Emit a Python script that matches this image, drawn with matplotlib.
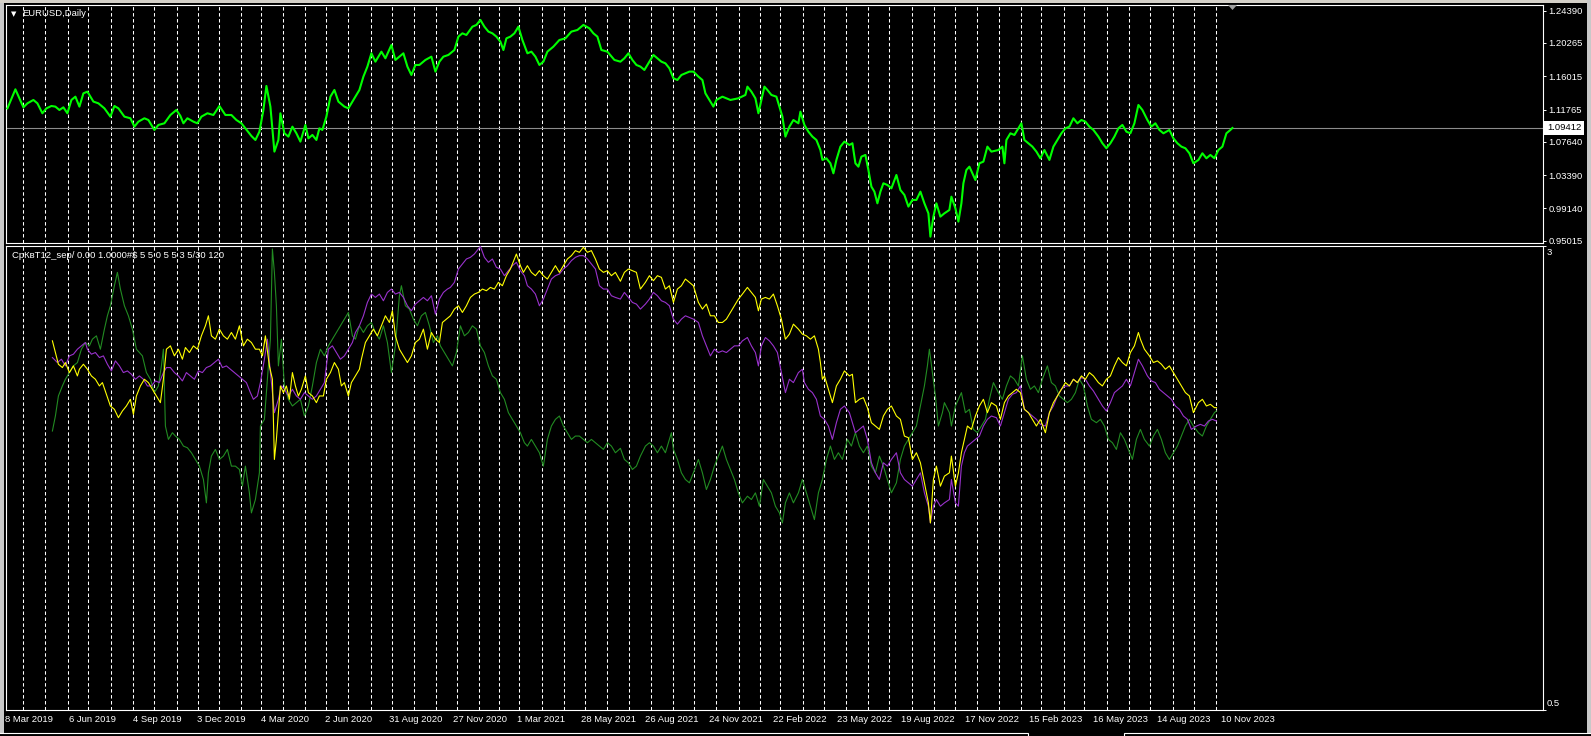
import numpy as np
import pandas as pd
import matplotlib
matplotlib.use('Agg')
import matplotlib.pyplot as plt
from matplotlib.patches import Rectangle, Polygon
from matplotlib.transforms import blended_transform_factory

plt.rcParams['font.family'] = ['Liberation Sans', 'DejaVu Sans']
plt.rcParams['lines.scale_dashes'] = False

# ---- data: (bar index, value), bar 0 = 8 Mar 2019, one pixel per daily bar ----
price_pts = [
    (0, 1.1192), (8, 1.1435), (12, 1.1320), (16, 1.1205), (20, 1.1256), (26, 1.1299), (30, 1.1256),
    (35, 1.1129), (39, 1.1192), (44, 1.1222), (48, 1.1214), (52, 1.1171), (56, 1.1205), (60, 1.1129),
    (64, 1.1299), (68, 1.1341), (72, 1.1214), (76, 1.1384), (80, 1.1405), (86, 1.1278), (91, 1.1256),
    (97, 1.1192), (103, 1.1086), (107, 1.1222), (111, 1.1192), (117, 1.1086), (123, 1.1065), (127, 1.0958),
    (131, 1.1022), (137, 1.1065), (141, 1.1043), (147, 1.0916), (151, 1.0980), (157, 1.1001), (163, 1.1107),
    (169, 1.1171), (173, 1.1095), (176, 1.1001), (180, 1.1065), (186, 1.1022), (190, 1.1001), (194, 1.1086),
    (200, 1.1129), (206, 1.1107), (212, 1.1222), (218, 1.1107), (224, 1.1107), (229, 1.1043), (234, 1.1001),
    (238, 1.0937), (244, 1.0839), (248, 1.0788), (252, 1.0894), (256, 1.1171), (259, 1.1478), (263, 1.1214),
    (267, 1.0639), (271, 1.0788), (273, 1.1129), (277, 1.0873), (281, 1.0831), (285, 1.0958), (289, 1.0873),
    (293, 1.0767), (298, 1.0980), (301, 1.0809), (305, 1.0852), (309, 1.0788), (312, 1.0937), (315, 1.0916),
    (319, 1.1086), (323, 1.1341), (327, 1.1427), (331, 1.1278), (337, 1.1214), (341, 1.1192), (346, 1.1299),
    (352, 1.1427), (356, 1.1597), (360, 1.1725), (364, 1.1895), (368, 1.1788), (374, 1.1916), (378, 1.1831),
    (384, 1.2001), (388, 1.1810), (392, 1.1852), (396, 1.1895), (400, 1.1725), (404, 1.1618), (408, 1.1746),
    (412, 1.1746), (418, 1.1810), (424, 1.1852), (428, 1.1661), (432, 1.1788), (436, 1.1852), (441, 1.1874),
    (447, 1.1937), (451, 1.2108), (455, 1.2150), (459, 1.2129), (465, 1.2235), (469, 1.2257), (473, 1.2321),
    (477, 1.2235), (481, 1.2172), (485, 1.2150), (489, 1.2108), (493, 1.2044), (496, 1.1937), (499, 1.2086),
    (503, 1.2108), (507, 1.2150), (511, 1.2235), (515, 1.2065), (520, 1.1895), (524, 1.1916), (528, 1.1852),
    (532, 1.1746), (536, 1.1788), (540, 1.1916), (546, 1.1980), (552, 1.2065), (558, 1.2086), (564, 1.2172),
    (570, 1.2193), (576, 1.2257), (582, 1.2214), (586, 1.2150), (590, 1.2108), (594, 1.1937), (600, 1.1916),
    (607, 1.1810), (613, 1.1788), (617, 1.1831), (621, 1.1895), (625, 1.1810), (629, 1.1746), (633, 1.1725),
    (637, 1.1682), (641, 1.1767), (646, 1.1874), (650, 1.1831), (654, 1.1788), (658, 1.1767), (662, 1.1703),
    (666, 1.1576), (670, 1.1554), (674, 1.1618), (678, 1.1639), (682, 1.1661), (686, 1.1661), (691, 1.1597),
    (695, 1.1554), (698, 1.1384), (702, 1.1299), (706, 1.1214), (709, 1.1299), (715, 1.1341), (723, 1.1299),
    (731, 1.1320), (738, 1.1363), (740, 1.1469), (744, 1.1405), (748, 1.1320), (751, 1.1129), (754, 1.1299),
    (757, 1.1469), (760, 1.1427), (764, 1.1363), (769, 1.1341), (772, 1.1214), (775, 1.1086), (778, 1.0831),
    (782, 1.0958), (786, 1.1043), (791, 1.1001), (793, 1.1150), (797, 1.0980), (801, 1.0894), (805, 1.0831),
    (809, 1.0788), (813, 1.0660), (815, 1.0533), (819, 1.0554), (823, 1.0490), (826, 1.0362), (829, 1.0533),
    (833, 1.0703), (837, 1.0767), (842, 1.0724), (845, 1.0746), (848, 1.0490), (851, 1.0447), (854, 1.0575),
    (858, 1.0597), (861, 1.0405), (864, 1.0192), (867, 1.0128), (870, 0.9979), (873, 1.0128), (876, 1.0235),
    (880, 1.0213), (884, 1.0171), (889, 1.0341), (893, 1.0149), (897, 1.0086), (901, 0.9937), (905, 1.0022),
    (909, 1.0022), (913, 1.0128), (917, 0.9979), (921, 0.9851), (923, 0.9553), (926, 0.9809), (929, 0.9979),
    (933, 0.9809), (937, 0.9851), (942, 0.9894), (944, 1.0064), (948, 0.9915), (951, 0.9745), (954, 0.9979),
    (956, 1.0235), (959, 1.0405), (962, 1.0447), (965, 1.0362), (968, 1.0277), (972, 1.0490), (976, 1.0511),
    (980, 1.0703), (984, 1.0639), (991, 1.0660), (995, 1.0703), (997, 1.0490), (999, 1.0788), (1003, 1.0873),
    (1007, 1.0852), (1011, 1.0937), (1014, 1.1001), (1017, 1.0788), (1021, 1.0746), (1025, 1.0703),
    (1029, 1.0639), (1033, 1.0554), (1037, 1.0660), (1042, 1.0533), (1046, 1.0703), (1050, 1.0788),
    (1054, 1.0873), (1058, 1.0937), (1062, 1.0958), (1066, 1.1065), (1070, 1.1001), (1074, 1.1043),
    (1078, 1.1022), (1082, 1.0958), (1086, 1.0916), (1091, 1.0831), (1095, 1.0746), (1099, 1.0682),
    (1103, 1.0746), (1107, 1.0831), (1111, 1.0937), (1115, 1.0980), (1119, 1.0894), (1123, 1.0873),
    (1127, 1.1001), (1131, 1.1235), (1135, 1.1171), (1140, 1.1043), (1144, 1.0958), (1148, 1.1001),
    (1152, 1.0916), (1156, 1.0873), (1162, 1.0916), (1166, 1.0809), (1170, 1.0746), (1174, 1.0703),
    (1178, 1.0682), (1182, 1.0618), (1186, 1.0490), (1191, 1.0533), (1195, 1.0618), (1199, 1.0554),
    (1203, 1.0597), (1207, 1.0554), (1211, 1.0660), (1215, 1.0703), (1219, 1.0873), (1223, 1.0916),
    (1225, 1.0941),
]

yellow_pts = [
    (45, 2.489), (48, 2.426), (51, 2.363), (55, 2.345), (58, 2.372), (62, 2.318), (66, 2.354), (70, 2.300),
    (72, 2.336), (76, 2.363), (80, 2.336), (84, 2.300), (88, 2.282), (92, 2.246), (95, 2.264), (99, 2.201),
    (103, 2.138), (107, 2.120), (111, 2.075), (115, 2.111), (119, 2.138), (123, 2.174), (126, 2.093),
    (129, 2.192), (133, 2.246), (137, 2.282), (141, 2.264), (145, 2.228), (149, 2.192), (153, 2.156),
    (156, 2.282), (159, 2.444), (163, 2.462), (167, 2.408), (171, 2.444), (175, 2.390), (178, 2.453),
    (182, 2.426), (186, 2.462), (190, 2.444), (194, 2.516), (198, 2.570), (201, 2.624), (204, 2.516),
    (208, 2.498), (212, 2.552), (216, 2.516), (220, 2.498), (224, 2.534), (228, 2.498), (232, 2.570),
    (236, 2.462), (240, 2.498), (244, 2.480), (248, 2.444), (252, 2.444), (255, 2.408), (258, 2.516),
    (262, 2.354), (265, 2.282), (267, 1.850), (269, 1.958), (273, 2.246), (276, 2.210), (279, 2.246),
    (282, 2.174), (285, 2.318), (288, 2.246), (291, 2.192), (294, 2.228), (298, 2.300), (301, 2.210),
    (305, 2.192), (309, 2.156), (312, 2.192), (316, 2.192), (319, 2.282), (323, 2.318), (327, 2.372),
    (331, 2.336), (334, 2.246), (337, 2.264), (341, 2.192), (344, 2.264), (348, 2.300), (352, 2.336),
    (354, 2.390), (358, 2.480), (362, 2.516), (366, 2.552), (370, 2.516), (374, 2.570), (378, 2.624),
    (382, 2.588), (385, 2.651), (388, 2.516), (392, 2.444), (396, 2.408), (400, 2.372), (404, 2.408),
    (408, 2.480), (412, 2.498), (416, 2.552), (420, 2.444), (424, 2.534), (428, 2.498), (432, 2.480),
    (435, 2.588), (439, 2.606), (443, 2.624), (447, 2.660), (451, 2.678), (455, 2.642), (459, 2.678),
    (463, 2.723), (467, 2.741), (471, 2.750), (475, 2.768), (479, 2.759), (483, 2.777), (487, 2.768),
    (491, 2.804), (495, 2.786), (499, 2.840), (503, 2.876), (507, 2.930), (509, 2.957), (513, 2.894),
    (516, 2.858), (520, 2.894), (524, 2.858), (528, 2.840), (532, 2.867), (536, 2.840), (540, 2.822),
    (544, 2.858), (548, 2.894), (552, 2.858), (556, 2.894), (560, 2.930), (564, 2.948), (568, 2.975),
    (572, 2.966), (576, 2.993), (580, 2.966), (584, 2.975), (588, 2.930), (592, 2.876), (596, 2.858),
    (600, 2.867), (604, 2.840), (608, 2.858), (613, 2.810), (617, 2.858), (621, 2.876), (625, 2.867),
    (629, 2.858), (633, 2.768), (638, 2.804), (642, 2.840), (646, 2.813), (650, 2.840), (654, 2.831),
    (658, 2.768), (662, 2.786), (666, 2.696), (670, 2.768), (674, 2.786), (678, 2.822), (682, 2.804),
    (686, 2.786), (691, 2.696), (695, 2.660), (699, 2.687), (703, 2.624), (707, 2.624), (711, 2.588),
    (715, 2.588), (719, 2.606), (723, 2.642), (727, 2.678), (731, 2.714), (735, 2.741), (740, 2.777),
    (744, 2.750), (748, 2.723), (751, 2.651), (754, 2.714), (758, 2.723), (762, 2.714), (766, 2.741),
    (770, 2.678), (774, 2.606), (778, 2.498), (782, 2.525), (786, 2.579), (791, 2.552), (795, 2.525),
    (799, 2.516), (803, 2.498), (807, 2.516), (811, 2.444), (813, 2.372), (815, 2.282), (817, 2.300),
    (821, 2.228), (825, 2.156), (829, 2.246), (833, 2.282), (837, 2.327), (842, 2.300), (845, 2.309),
    (848, 2.156), (852, 2.174), (856, 2.183), (860, 2.129), (864, 2.048), (868, 2.030), (872, 2.012),
    (876, 2.084), (880, 2.120), (884, 2.138), (889, 2.084), (893, 2.066), (897, 1.976), (901, 1.967),
    (905, 1.850), (909, 1.886), (913, 1.832), (917, 1.724), (921, 1.616), (923, 1.508), (926, 1.742),
    (929, 1.814), (933, 1.706), (937, 1.760), (942, 1.778), (944, 1.868), (948, 1.706), (951, 1.778),
    (954, 1.886), (957, 1.958), (960, 2.030), (964, 2.012), (968, 2.084), (972, 2.138), (976, 2.174),
    (980, 2.102), (984, 2.156), (989, 2.138), (993, 2.066), (997, 2.156), (1001, 2.192), (1005, 2.210),
    (1009, 2.228), (1013, 2.210), (1017, 2.120), (1021, 2.102), (1025, 2.066), (1029, 2.030), (1033, 2.066),
    (1038, 1.994), (1042, 2.102), (1046, 2.156), (1050, 2.192), (1054, 2.228), (1058, 2.264), (1062, 2.246),
    (1066, 2.282), (1070, 2.264), (1074, 2.300), (1078, 2.282), (1082, 2.318), (1086, 2.300), (1091, 2.264),
    (1095, 2.246), (1099, 2.282), (1103, 2.300), (1107, 2.354), (1111, 2.399), (1115, 2.372), (1119, 2.354),
    (1123, 2.426), (1127, 2.462), (1131, 2.534), (1133, 2.498), (1137, 2.444), (1142, 2.408), (1146, 2.372),
    (1150, 2.381), (1154, 2.363), (1158, 2.336), (1162, 2.354), (1166, 2.318), (1170, 2.282), (1174, 2.246),
    (1178, 2.210), (1182, 2.192), (1186, 2.102), (1191, 2.156), (1195, 2.174), (1199, 2.138), (1203, 2.147),
    (1207, 2.129), (1209, 2.129),
]

purple_pts = [
    (45, 2.399), (50, 2.372), (54, 2.390), (58, 2.354), (62, 2.408), (66, 2.417), (70, 2.444), (74, 2.462),
    (78, 2.480), (80, 2.444), (84, 2.417), (88, 2.426), (92, 2.399), (96, 2.408), (100, 2.363), (104, 2.327),
    (108, 2.381), (112, 2.354), (116, 2.318), (120, 2.327), (124, 2.309), (128, 2.282), (132, 2.300),
    (136, 2.282), (140, 2.246), (144, 2.246), (148, 2.273), (152, 2.264), (156, 2.318), (159, 2.345),
    (163, 2.345), (167, 2.318), (171, 2.300), (175, 2.273), (179, 2.318), (183, 2.300), (187, 2.282),
    (191, 2.327), (195, 2.318), (199, 2.345), (203, 2.354), (207, 2.372), (211, 2.390), (215, 2.345),
    (219, 2.354), (223, 2.336), (227, 2.318), (231, 2.300), (235, 2.282), (239, 2.264), (243, 2.210),
    (246, 2.174), (250, 2.192), (253, 2.264), (257, 2.390), (260, 2.498), (263, 2.318), (267, 2.102),
    (271, 2.174), (274, 2.246), (277, 2.228), (281, 2.192), (285, 2.228), (289, 2.192), (293, 2.174),
    (297, 2.210), (301, 2.192), (305, 2.174), (309, 2.192), (313, 2.228), (317, 2.264), (321, 2.444),
    (325, 2.462), (329, 2.426), (333, 2.390), (337, 2.408), (341, 2.444), (345, 2.480), (348, 2.534),
    (352, 2.570), (356, 2.624), (360, 2.696), (364, 2.741), (368, 2.723), (372, 2.741), (376, 2.705),
    (380, 2.750), (384, 2.768), (388, 2.741), (392, 2.750), (396, 2.723), (400, 2.678), (404, 2.651),
    (408, 2.687), (412, 2.705), (416, 2.723), (420, 2.705), (424, 2.732), (428, 2.633), (432, 2.714),
    (436, 2.750), (440, 2.768), (443, 2.777), (447, 2.804), (451, 2.876), (455, 2.903), (459, 2.930),
    (463, 2.939), (467, 2.957), (471, 2.984), (473, 2.998), (477, 2.939), (481, 2.912), (485, 2.930),
    (489, 2.885), (493, 2.876), (497, 2.840), (501, 2.867), (505, 2.894), (509, 2.912), (513, 2.867),
    (517, 2.840), (520, 2.786), (524, 2.768), (528, 2.741), (532, 2.678), (536, 2.714), (540, 2.768),
    (544, 2.822), (548, 2.840), (552, 2.849), (556, 2.876), (560, 2.894), (564, 2.921), (568, 2.939),
    (572, 2.948), (576, 2.948), (580, 2.930), (584, 2.903), (588, 2.876), (592, 2.786), (596, 2.768),
    (600, 2.768), (604, 2.732), (608, 2.723), (613, 2.714), (617, 2.750), (621, 2.723), (625, 2.696),
    (629, 2.687), (633, 2.660), (638, 2.687), (642, 2.714), (646, 2.750), (650, 2.732), (654, 2.705),
    (658, 2.696), (662, 2.678), (666, 2.606), (670, 2.579), (674, 2.606), (678, 2.624), (682, 2.615),
    (686, 2.606), (691, 2.588), (695, 2.516), (699, 2.462), (703, 2.408), (707, 2.444), (711, 2.426),
    (715, 2.435), (719, 2.426), (723, 2.444), (727, 2.462), (731, 2.462), (735, 2.489), (740, 2.507),
    (744, 2.462), (748, 2.426), (751, 2.354), (754, 2.462), (758, 2.507), (762, 2.489), (766, 2.462),
    (770, 2.426), (774, 2.318), (778, 2.210), (782, 2.282), (786, 2.264), (791, 2.318), (795, 2.336),
    (797, 2.264), (801, 2.228), (805, 2.210), (809, 2.174), (813, 2.084), (817, 2.066), (821, 2.030),
    (825, 1.958), (829, 2.048), (833, 2.120), (837, 2.138), (842, 2.102), (845, 2.048), (848, 1.994),
    (852, 2.012), (856, 2.030), (860, 1.958), (864, 1.832), (868, 1.778), (872, 1.742), (876, 1.832),
    (880, 1.814), (884, 1.850), (889, 1.886), (893, 1.778), (897, 1.742), (901, 1.724), (905, 1.706),
    (909, 1.742), (913, 1.778), (917, 1.670), (921, 1.598), (923, 1.508), (926, 1.598), (929, 1.634),
    (933, 1.598), (937, 1.616), (942, 1.634), (944, 1.742), (948, 1.616), (951, 1.598), (954, 1.814),
    (957, 1.886), (960, 1.922), (964, 1.940), (968, 1.958), (972, 1.976), (976, 2.030), (980, 2.066),
    (984, 2.084), (989, 2.075), (993, 2.030), (997, 2.102), (1001, 2.174), (1005, 2.201), (1009, 2.210),
    (1013, 2.246), (1017, 2.120), (1021, 2.102), (1025, 2.084), (1029, 2.066), (1033, 2.039), (1038, 2.030),
    (1042, 2.102), (1046, 2.138), (1050, 2.192), (1054, 2.228), (1058, 2.246), (1062, 2.246), (1066, 2.282),
    (1070, 2.264), (1074, 2.291), (1078, 2.282), (1082, 2.246), (1086, 2.219), (1091, 2.174), (1095, 2.138),
    (1099, 2.111), (1103, 2.156), (1107, 2.210), (1111, 2.228), (1115, 2.246), (1119, 2.282), (1123, 2.246),
    (1127, 2.318), (1131, 2.390), (1135, 2.354), (1140, 2.300), (1144, 2.273), (1148, 2.264), (1152, 2.228),
    (1156, 2.210), (1160, 2.192), (1164, 2.174), (1168, 2.138), (1172, 2.120), (1176, 2.084), (1180, 2.066),
    (1184, 2.012), (1189, 2.030), (1193, 2.039), (1197, 2.030), (1201, 2.057), (1205, 2.066), (1209, 2.057),
]

green_pts = [
    (45, 2.003), (48, 2.084), (51, 2.192), (55, 2.246), (58, 2.282), (62, 2.318), (66, 2.354), (70, 2.372),
    (74, 2.444), (78, 2.480), (82, 2.462), (85, 2.498), (89, 2.516), (93, 2.444), (97, 2.552), (100, 2.624),
    (103, 2.678), (107, 2.786), (110, 2.858), (113, 2.768), (117, 2.678), (121, 2.624), (125, 2.552),
    (127, 2.498), (129, 2.444), (132, 2.426), (135, 2.408), (139, 2.318), (143, 2.282), (147, 2.210),
    (151, 2.246), (154, 2.354), (156, 2.444), (158, 2.030), (161, 1.958), (165, 1.994), (168, 1.976),
    (172, 1.958), (176, 1.922), (180, 1.913), (184, 1.886), (188, 1.850), (192, 1.814), (196, 1.742),
    (199, 1.616), (201, 1.778), (204, 1.868), (208, 1.904), (212, 1.850), (216, 1.868), (220, 1.904),
    (224, 1.814), (228, 1.814), (232, 1.796), (235, 1.706), (238, 1.814), (242, 1.670), (244, 1.562),
    (248, 1.634), (252, 1.778), (253, 2.030), (257, 2.066), (260, 2.282), (263, 2.498), (265, 2.984),
    (267, 2.858), (269, 2.678), (271, 2.354), (274, 2.498), (277, 2.246), (281, 2.174), (285, 2.138),
    (289, 2.156), (293, 2.174), (297, 2.084), (301, 2.138), (305, 2.246), (309, 2.372), (313, 2.444),
    (317, 2.408), (321, 2.462), (325, 2.498), (329, 2.534), (333, 2.570), (337, 2.606), (341, 2.642),
    (345, 2.516), (348, 2.498), (352, 2.570), (356, 2.534), (360, 2.570), (364, 2.588), (368, 2.534),
    (372, 2.498), (376, 2.570), (380, 2.480), (384, 2.318), (388, 2.462), (392, 2.732), (394, 2.786),
    (398, 2.678), (402, 2.660), (406, 2.606), (410, 2.570), (414, 2.624), (418, 2.642), (422, 2.570),
    (426, 2.480), (430, 2.516), (433, 2.462), (437, 2.426), (441, 2.390), (445, 2.354), (449, 2.426),
    (453, 2.570), (457, 2.516), (461, 2.534), (465, 2.570), (469, 2.552), (473, 2.462), (477, 2.426),
    (481, 2.354), (485, 2.300), (489, 2.282), (493, 2.210), (497, 2.174), (501, 2.102), (505, 2.066),
    (509, 2.030), (513, 1.994), (517, 1.940), (520, 1.922), (524, 1.958), (528, 1.922), (532, 1.886),
    (536, 1.814), (540, 1.958), (544, 2.030), (548, 2.066), (552, 2.084), (556, 2.030), (560, 1.994),
    (564, 1.958), (568, 1.976), (572, 1.976), (576, 1.958), (580, 1.940), (584, 1.958), (588, 1.940),
    (592, 1.922), (596, 1.904), (600, 1.940), (604, 1.922), (608, 1.886), (613, 1.910), (617, 1.850),
    (621, 1.832), (625, 1.796), (629, 1.814), (633, 1.868), (638, 1.922), (642, 1.940), (646, 1.922),
    (650, 1.886), (654, 1.922), (658, 1.886), (662, 1.958), (664, 1.994), (666, 1.904), (670, 1.850),
    (674, 1.778), (678, 1.742), (682, 1.724), (686, 1.778), (691, 1.850), (695, 1.778), (699, 1.688),
    (703, 1.742), (707, 1.814), (711, 1.868), (715, 1.922), (719, 1.850), (723, 1.796), (727, 1.742),
    (731, 1.670), (735, 1.616), (740, 1.652), (744, 1.634), (748, 1.670), (752, 1.598), (756, 1.742),
    (760, 1.706), (764, 1.670), (768, 1.598), (772, 1.562), (775, 1.508), (778, 1.616), (782, 1.670),
    (786, 1.616), (791, 1.670), (795, 1.742), (799, 1.670), (803, 1.598), (807, 1.526), (811, 1.670),
    (815, 1.742), (819, 1.850), (823, 1.922), (827, 1.850), (831, 1.886), (835, 1.850), (840, 1.958),
    (844, 1.922), (848, 1.994), (852, 1.922), (856, 1.886), (860, 1.922), (864, 1.814), (868, 1.778),
    (872, 1.868), (876, 1.814), (880, 1.742), (884, 1.670), (889, 1.724), (893, 1.850), (897, 1.922),
    (901, 1.958), (905, 1.994), (909, 2.030), (913, 2.138), (917, 2.246), (920, 2.354), (922, 2.444),
    (925, 2.318), (928, 2.192), (931, 2.030), (935, 2.102), (937, 2.156), (942, 2.102), (944, 2.030),
    (948, 2.138), (951, 2.174), (954, 2.210), (958, 2.102), (962, 2.120), (966, 2.012), (970, 1.994),
    (974, 2.030), (978, 2.066), (982, 2.174), (986, 2.264), (991, 2.210), (995, 2.174), (999, 2.246),
    (1003, 2.300), (1007, 2.282), (1011, 2.246), (1015, 2.408), (1019, 2.282), (1023, 2.228), (1027, 2.246),
    (1031, 2.210), (1035, 2.282), (1040, 2.354), (1044, 2.264), (1048, 2.246), (1052, 2.192), (1056, 2.174),
    (1060, 2.156), (1064, 2.174), (1068, 2.210), (1072, 2.282), (1076, 2.246), (1080, 2.138), (1084, 2.066),
    (1089, 2.048), (1093, 2.066), (1097, 2.030), (1101, 1.958), (1105, 1.940), (1109, 1.904), (1113, 1.994),
    (1117, 1.958), (1121, 1.904), (1125, 1.850), (1129, 1.958), (1133, 2.012), (1137, 1.958), (1142, 1.922),
    (1146, 1.976), (1150, 2.012), (1154, 1.958), (1158, 1.886), (1162, 1.850), (1166, 1.886), (1170, 1.922),
    (1174, 1.976), (1178, 2.030), (1182, 2.066), (1186, 2.030), (1191, 1.994), (1195, 1.976), (1199, 2.030),
    (1203, 2.066), (1207, 2.102), (1209, 2.111),
]

price_ticks = [1.24390, 1.20265, 1.16015, 1.11765, 1.07640, 1.03390, 0.99140, 0.95015]
price_tick_labels = ['1.24390', '1.20265', '1.16015', '1.11765', '1.07640', '1.03390', '0.99140', '0.95015']
bid_price = 1.09412
date_labels = ['8 Mar 2019', '6 Jun 2019', '4 Sep 2019', '3 Dec 2019', '4 Mar 2020', '2 Jun 2020',
               '31 Aug 2020', '27 Nov 2020', '1 Mar 2021', '28 May 2021', '26 Aug 2021', '24 Nov 2021',
               '22 Feb 2022', '23 May 2022', '19 Aug 2022', '17 Nov 2022', '15 Feb 2023', '16 May 2023',
               '14 Aug 2023', '10 Nov 2023']
bars_per_label = 64
ind_range = (0.5, 3.0)
ind_title = 'СрКвТ12_sep/ 0.00 1.0000#$ 5 5 0 5 5 3 5/30 120'

# ---- figure layout in pixels ----
W, H = 1591, 736
FS = 6.8
fig = plt.figure(figsize=(W / 100, H / 100), dpi=100, facecolor='black')


def px_rect(left, top, right, bottom):
    return [left / W, 1 - bottom / H, (right - left) / W, (bottom - top) / H]


ax1 = fig.add_axes(px_rect(6, 5, 1543, 243), facecolor='black')
ax2 = fig.add_axes(px_rect(6, 246, 1543, 710), facecolor='black')

# bar i sits at pixel 7.4 + i
for ax in (ax1, ax2):
    ax.set_xlim(-1.4, 1535.6)
    for s in ax.spines.values():
        s.set_color('white')
        s.set_linewidth(0.8)
    ax.tick_params(axis='x', bottom=False, labelbottom=False)

ax1.set_ylim(0.94722, 1.25118)
ax2.set_ylim(*ind_range)

# trading calendar for the monthly grid (no Christmas / New Year bars)
dates = pd.bdate_range('2019-03-08', '2023-12-29')
dates = dates[~(((dates.month == 12) & (dates.day == 25)) | ((dates.month == 1) & (dates.day == 1)))]
month_first = np.flatnonzero(dates.month[1:] != dates.month[:-1]) + 1
month_first = month_first[month_first <= price_pts[-1][0]]
for ax in (ax1, ax2):
    for b in month_first:
        ax.axvline(b, color='white', lw=0.75, ls=(0, (2.5, 1.8)), zorder=1)

# price pane
px, py = zip(*price_pts)
ax1.axhline(bid_price, color='#8c8c8c', lw=0.8, zorder=2)
ax1.plot(px, py, color='#00ff00', lw=1.5, zorder=3)

ax1.yaxis.tick_right()
ax1.set_yticks(price_ticks, price_tick_labels)
ax1.tick_params(axis='y', colors='white', labelcolor='white', length=2.5, width=0.7, pad=1.5, labelsize=FS)
ax1.annotate(f'{bid_price:.5f}', xy=(1, bid_price), xycoords=('axes fraction', 'data'),
             xytext=(4, 0), textcoords='offset pixels', ha='left', va='center', fontsize=FS, color='black',
             bbox=dict(boxstyle='square,pad=0.3', fc='white', ec='none'), annotation_clip=False)

# indicator pane
for pts, col in ((green_pts, '#228b22'), (purple_pts, '#9932cc'), (yellow_pts, '#ffff00')):
    bx, by = zip(*pts)
    ax2.plot(bx, by, color=col, lw=0.8, zorder=3)

ax2.yaxis.tick_right()
ax2.set_yticks(list(ind_range))
ax2.tick_params(axis='y', colors='white', length=2.5, width=0.7, labelright=False)
ax2.annotate('0.5', xy=(1, ind_range[0]), xycoords=('axes fraction', 'data'), xytext=(4, 2),
             textcoords='offset pixels', ha='left', va='bottom', fontsize=FS, color='white',
             annotation_clip=False)
ax2.annotate('3', xy=(1, ind_range[1]), xycoords=('axes fraction', 'data'), xytext=(4, -2),
             textcoords='offset pixels', ha='left', va='top', fontsize=FS, color='white',
             annotation_clip=False)

# time scale
tr = blended_transform_factory(ax2.transData, ax2.transAxes)
for k, lab in enumerate(date_labels):
    ax2.text(k * bars_per_label - 2, -9 / 464, lab, transform=tr, ha='left', va='center',
             fontsize=FS, color='white', clip_on=False)

# pane titles
fig.text(13.5 / W, 1 - 14 / H, '▼', fontsize=5, ha='center', va='center', color='white',
         family='DejaVu Sans')
fig.text(22 / W, 1 - 14 / H, 'EURUSD,Daily', fontsize=FS, ha='left', va='center', color='white')
fig.text(11.5 / W, 1 - 255.5 / H, ind_title, fontsize=FS, ha='left', va='center', color='white')

# window chrome
fig.add_artist(Rectangle((0, 0), 4 / W, 1, transform=fig.transFigure, fc='#c8c8c8', ec='none'))
fig.add_artist(Rectangle((0, 1 - 3 / H), 1, 3 / H, transform=fig.transFigure, fc='#d4d0c8', ec='none'))
fig.add_artist(Rectangle((1587 / W, 0), 4 / W, 1, transform=fig.transFigure, fc='#c8c8c8', ec='none'))
fig.add_artist(Rectangle((-0.01, -0.01), 1028 / W + 0.01, 3.5 / H + 0.01, transform=fig.transFigure,
                         fc='black', ec='white', lw=0.8))
fig.add_artist(Rectangle((1124 / W, -0.01), 1, 3.5 / H + 0.01, transform=fig.transFigure,
                         fc='black', ec='white', lw=0.8))
fig.add_artist(Polygon([[1228 / W, 1 - 5 / H], [1237 / W, 1 - 5 / H], [1232.5 / W, 1 - 10 / H]],
                       closed=True, transform=fig.transFigure, fc='#a0a0a0', ec='none'))

fig.savefig('out.png', dpi=100, facecolor='black')
